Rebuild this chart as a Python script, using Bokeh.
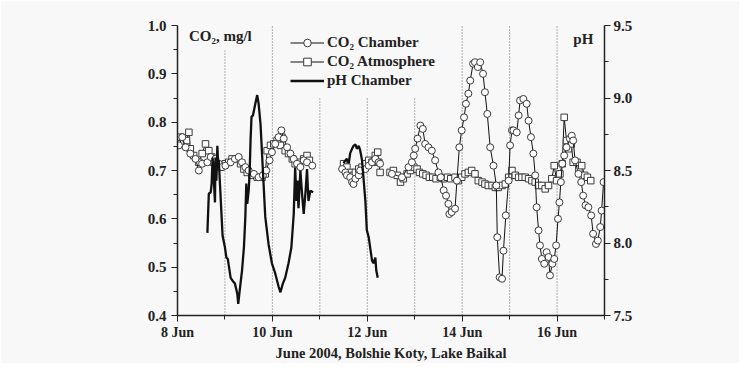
from bokeh.plotting import figure
from bokeh.models import (Range1d, LinearAxis, FixedTicker, NumeralTickFormatter,
                          Legend, LegendItem, Label)
from bokeh.embed import file_html
from bokeh.resources import INLINE

FONT = "Liberation Serif"

# ---------------- data (day of June 2004) ----------------
# CO2 Chamber, mg/l (three measurement periods)
chamber_day_a = [8.03, 8.10, 8.17, 8.27, 8.38, 8.45, 8.52, 8.63, 8.70, 8.80, 8.87, 8.94, 9.01,
                 9.12, 9.21, 9.29, 9.36, 9.43, 9.50, 9.61, 9.71, 9.80, 9.87, 9.94, 9.99, 10.06,
                 10.13, 10.19, 10.24, 10.31, 10.38, 10.45, 10.52, 10.59, 10.66, 10.73, 10.84]
chamber_co2_a = [0.752, 0.769, 0.748, 0.735, 0.724, 0.700, 0.714, 0.717, 0.728, 0.724, 0.714,
                 0.707, 0.710, 0.717, 0.724, 0.728, 0.717, 0.707, 0.700, 0.693, 0.686, 0.690,
                 0.700, 0.721, 0.738, 0.755, 0.769, 0.783, 0.766, 0.748, 0.735, 0.724, 0.714,
                 0.707, 0.721, 0.717, 0.710]
chamber_day_b = [11.47, 11.54, 11.57, 11.64, 11.68, 11.71, 11.75, 11.82, 11.85, 11.96, 12.03,
                 12.10, 12.17, 12.24, 12.27]
chamber_co2_b = [0.703, 0.696, 0.690, 0.686, 0.676, 0.672, 0.683, 0.690, 0.700, 0.703, 0.710,
                 0.717, 0.724, 0.717, 0.714]
chamber_day_c = [12.52, 12.73, 12.87, 12.94, 12.98, 13.01, 13.06, 13.12, 13.17, 13.22, 13.29,
                 13.36, 13.43, 13.50, 13.55, 13.61, 13.66, 13.71, 13.73, 13.78, 13.85, 13.89,
                 13.94, 13.99, 14.04, 14.08, 14.13, 14.17, 14.23, 14.27, 14.33, 14.38, 14.44,
                 14.48, 14.53, 14.59, 14.66, 14.72, 14.74, 14.79, 14.84, 14.87, 14.92, 14.98,
                 15.01, 15.05, 15.08, 15.15, 15.19, 15.22, 15.29, 15.36, 15.40, 15.45, 15.50,
                 15.54, 15.57, 15.61, 15.64, 15.68, 15.73, 15.78, 15.82, 15.85, 15.90, 15.94,
                 15.98, 16.02, 16.05, 16.08, 16.11, 16.15, 16.20, 16.27, 16.31, 16.34, 16.38,
                 16.45, 16.51, 16.55, 16.60, 16.66, 16.72, 16.76, 16.82, 16.86, 16.91, 16.94,
                 16.98]
chamber_co2_c = [0.693, 0.686, 0.707, 0.717, 0.731, 0.745, 0.766, 0.793, 0.786, 0.755, 0.748,
                 0.741, 0.721, 0.696, 0.686, 0.659, 0.648, 0.631, 0.610, 0.614, 0.621, 0.679,
                 0.748, 0.783, 0.810, 0.838, 0.859, 0.886, 0.921, 0.924, 0.914, 0.924, 0.900,
                 0.862, 0.817, 0.748, 0.710, 0.669, 0.562, 0.479, 0.476, 0.534, 0.607, 0.679,
                 0.752, 0.783, 0.783, 0.779, 0.814, 0.845, 0.848, 0.838, 0.803, 0.769, 0.735,
                 0.690, 0.624, 0.576, 0.545, 0.517, 0.507, 0.531, 0.521, 0.483, 0.507, 0.517,
                 0.545, 0.600, 0.634, 0.676, 0.714, 0.731, 0.748, 0.766, 0.772, 0.762, 0.721,
                 0.693, 0.676, 0.648, 0.628, 0.624, 0.607, 0.569, 0.548, 0.555, 0.583, 0.617,
                 0.676]

# CO2 Atmosphere, mg/l
atm_day_a = [8.06, 8.13, 8.19, 8.24, 8.27, 8.34, 8.45, 8.52, 8.59, 8.66, 8.72, 8.76, 8.84,
             8.91, 9.01, 9.08, 9.15, 9.26, 9.33, 9.40, 9.47, 9.57, 9.68, 9.78, 9.85, 9.89,
             9.96, 10.03, 10.10, 10.17, 10.20, 10.27, 10.34, 10.42, 10.48, 10.55, 10.66,
             10.73, 10.78]
atm_co2_a = [0.769, 0.755, 0.762, 0.779, 0.745, 0.731, 0.717, 0.735, 0.755, 0.741, 0.728,
             0.717, 0.710, 0.707, 0.714, 0.717, 0.724, 0.724, 0.714, 0.703, 0.696, 0.690,
             0.686, 0.686, 0.693, 0.741, 0.752, 0.755, 0.762, 0.752, 0.769, 0.741, 0.735,
             0.724, 0.714, 0.717, 0.724, 0.731, 0.721]
atm_day_b = [11.50, 11.57, 11.64, 11.71, 11.75, 11.82, 11.89, 11.96, 12.03, 12.10, 12.17,
             12.22, 12.24, 12.27]
atm_co2_b = [0.714, 0.707, 0.696, 0.690, 0.696, 0.703, 0.707, 0.714, 0.721, 0.717, 0.731,
             0.738, 0.717, 0.696]
atm_day_c = [12.48, 12.55, 12.63, 12.70, 12.76, 12.84, 12.91, 12.98, 13.05, 13.10, 13.17,
             13.24, 13.31, 13.38, 13.45, 13.54, 13.61, 13.69, 13.76, 13.85, 13.92, 13.99,
             14.06, 14.13, 14.20, 14.27, 14.34, 14.42, 14.48, 14.55, 14.63, 14.70, 14.76,
             14.84, 14.91, 14.98, 15.05, 15.12, 15.19, 15.26, 15.33, 15.40, 15.47, 15.54,
             15.61, 15.68, 15.75, 15.82, 15.89, 15.94, 15.99, 16.06, 16.11, 16.15, 16.20,
             16.24, 16.30, 16.34, 16.42, 16.46, 16.52, 16.58, 16.64, 16.71]
atm_co2_c = [0.696, 0.700, 0.690, 0.676, 0.683, 0.693, 0.700, 0.707, 0.703, 0.696, 0.693,
             0.690, 0.686, 0.686, 0.683, 0.686, 0.683, 0.686, 0.683, 0.686, 0.679, 0.686,
             0.693, 0.696, 0.700, 0.693, 0.679, 0.676, 0.672, 0.669, 0.669, 0.665, 0.665,
             0.669, 0.672, 0.686, 0.700, 0.690, 0.686, 0.686, 0.686, 0.683, 0.679, 0.676,
             0.669, 0.669, 0.662, 0.669, 0.683, 0.710, 0.679, 0.693, 0.714, 0.810, 0.762,
             0.745, 0.755, 0.717, 0.717, 0.703, 0.710, 0.690, 0.686, 0.679]

# pH Chamber (right axis)
ph_day_a = [8.63, 8.66, 8.70, 8.72, 8.74, 8.79, 8.80, 8.82, 8.84, 8.86, 8.87, 8.93, 8.95,
            9.00, 9.03, 9.06, 9.12, 9.16, 9.21, 9.26, 9.28, 9.31, 9.36, 9.40, 9.43, 9.45,
            9.47, 9.50, 9.52, 9.54, 9.56, 9.59, 9.64, 9.68, 9.71, 9.75, 9.80, 9.85, 9.92,
            9.99, 10.06, 10.13, 10.17, 10.22, 10.27, 10.34, 10.40, 10.45, 10.48, 10.51,
            10.53, 10.55, 10.59, 10.63, 10.66, 10.70, 10.73, 10.76, 10.80, 10.86]
ph_val_a = [8.07, 8.34, 8.35, 8.41, 8.59, 8.28, 8.59, 8.43, 8.67, 8.52, 8.57, 8.18, 8.05,
            7.97, 7.90, 7.89, 7.76, 7.74, 7.72, 7.65, 7.58, 7.67, 7.81, 7.97, 8.18, 8.41,
            8.27, 8.36, 8.48, 8.71, 8.87, 8.88, 8.96, 9.02, 8.96, 8.82, 8.50, 8.18, 7.99,
            7.86, 7.79, 7.70, 7.66, 7.72, 7.76, 7.86, 7.97, 8.20, 8.52, 8.29, 8.43, 8.24,
            8.50, 8.32, 8.20, 8.36, 8.51, 8.29, 8.36, 8.35]
ph_day_b = [11.50, 11.54, 11.57, 11.61, 11.64, 11.68, 11.71, 11.75, 11.78, 11.82, 11.85,
            11.89, 11.92, 11.96, 11.99, 12.03, 12.06, 12.10, 12.13, 12.17, 12.19, 12.22]
ph_val_b = [8.55, 8.57, 8.58, 8.55, 8.62, 8.65, 8.67, 8.68, 8.65, 8.67, 8.64, 8.57, 8.45,
            8.29, 8.09, 8.04, 7.97, 7.88, 7.86, 7.90, 7.81, 7.76]

# axis ticks
x_major = [8, 10, 12, 14, 16]
x_minor = [9, 11, 13, 15, 17]
x_labels = {8: "8 Jun", 10: "10 Jun", 12: "12 Jun", 14: "14 Jun", 16: "16 Jun"}
co2_major = [0.4, 0.5, 0.6, 0.7, 0.8, 0.9, 1.0]
co2_minor = [0.45, 0.55, 0.65, 0.75, 0.85, 0.95]
ph_major = [7.5, 8.0, 8.5, 9.0, 9.5]
ph_minor = [7.75, 8.25, 8.75, 9.25]

# dotted day separators (day, top on CO2 scale)
sep_days = [9, 10, 11, 12, 13, 14, 15, 16]
sep_tops = [0.948, 1.0, 0.851, 0.851, 0.851, 1.0, 1.0, 1.0]

# ---------------- figure ----------------
BG = "#f8f8f8"
INK = "#222222"
p = figure(width=739, height=363, x_range=Range1d(8, 17), y_range=Range1d(0.4, 1.0),
           output_backend="svg", toolbar_location=None,
           min_border_left=177, min_border_right=135, min_border_top=25, min_border_bottom=47,
           background_fill_color=BG, border_fill_color=BG, outline_line_color=None)
p.extra_y_ranges = {"ph": Range1d(7.5, 9.5)}
p.xgrid.visible = False
p.ygrid.visible = False

def style_axis(ax, size):
    ax.axis_line_color = INK
    ax.axis_line_width = 1.5
    ax.major_tick_line_color = INK
    ax.minor_tick_line_color = INK
    ax.major_tick_in = 0
    ax.major_tick_out = 6
    ax.minor_tick_in = 0
    ax.minor_tick_out = 4
    ax.major_label_text_font = FONT
    ax.major_label_text_font_style = "bold"
    ax.major_label_text_font_size = size
    ax.major_label_text_color = INK

xa = p.xaxis[0]
style_axis(xa, "14px")
xa.ticker = FixedTicker(ticks=x_major, minor_ticks=x_minor)
xa.major_label_overrides = x_labels
xa.major_label_standoff = 3
xa.axis_label = "June 2004, Bolshie Koty, Lake Baikal"
xa.axis_label_text_font = FONT
xa.axis_label_text_font_style = "bold"
xa.axis_label_text_font_size = "14.5px"
xa.axis_label_text_color = INK
xa.axis_label_standoff = 2

ya = p.yaxis[0]
style_axis(ya, "15px")
ya.ticker = FixedTicker(ticks=co2_major, minor_ticks=co2_minor)
ya.formatter = NumeralTickFormatter(format="0.0")
ya.major_label_standoff = 5

ra = LinearAxis(y_range_name="ph")
style_axis(ra, "15px")
ra.ticker = FixedTicker(ticks=ph_major, minor_ticks=ph_minor)
ra.formatter = NumeralTickFormatter(format="0.0")
ra.major_label_standoff = 3
p.add_layout(ra, "right")

# separators
p.segment(x0=sep_days, y0=[0.4] * len(sep_days), x1=sep_days, y1=sep_tops,
          line_color="#666666", line_width=1, line_dash="1 2")

MK = "#3a3a3a"
atm_r = []
for d, v in [(atm_day_a, atm_co2_a), (atm_day_b, atm_co2_b), (atm_day_c, atm_co2_c)]:
    l = p.line(d, v, line_color="#111111", line_width=1)
    s = p.scatter(d, v, marker="square", size=6.5, fill_color="white",
                  line_color=MK, line_width=1)
    atm_r.append((l, s))

ch_r = []
for d, v in [(chamber_day_a, chamber_co2_a), (chamber_day_b, chamber_co2_b),
             (chamber_day_c, chamber_co2_c)]:
    l = p.line(d, v, line_color="#111111", line_width=1)
    s = p.scatter(d, v, marker="circle", size=7, fill_color="white",
                  line_color=MK, line_width=1)
    ch_r.append((l, s))

ph_r = []
for d, v in [(ph_day_a, ph_val_a), (ph_day_b, ph_val_b)]:
    ph_r.append(p.line(d, v, y_range_name="ph", line_color="#111111", line_width=2.3))

legend = Legend(items=[
    LegendItem(label="CO₂ Chamber", renderers=list(ch_r[0])),
    LegendItem(label="CO₂ Atmosphere", renderers=list(atm_r[0])),
    LegendItem(label="pH Chamber", renderers=[ph_r[0]]),
], location=(113, 225), orientation="vertical")
legend.background_fill_alpha = 0
legend.border_line_color = None
legend.label_text_font = FONT
legend.label_text_font_style = "bold"
legend.label_text_font_size = "15px"
legend.label_text_color = INK
legend.glyph_width = 34
legend.glyph_height = 19
legend.label_height = 19
legend.label_standoff = 3
legend.spacing = 0
legend.padding = 0
legend.margin = 0
p.add_layout(legend, "center")

p.add_layout(Label(x=8.24, y=0.979, text="CO₂, mg/l", text_font=FONT,
                   text_font_style="bold", text_font_size="15px", text_color=INK,
                   text_baseline="middle"))
p.add_layout(Label(x=16.343, y=0.973, text="pH", text_font=FONT,
                   text_font_style="bold", text_font_size="15px", text_color=INK,
                   text_baseline="middle"))

open("out.html", "w").write(file_html(p, INLINE))
